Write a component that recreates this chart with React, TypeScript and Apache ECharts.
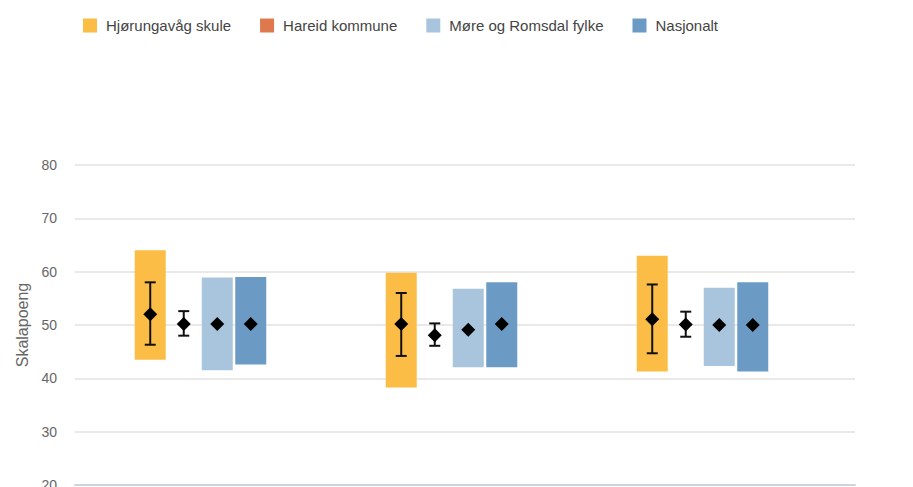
import React, { useEffect, useRef } from "react";
import * as echarts from "echarts";

// Categories (x labels are cut off in the reference, so they are not shown)
const categories = ["Kategori 1", "Kategori 2", "Kategori 3"];
const seriesNames = ["Hjørungavåg skule", "Hareid kommune", "Møre og Romsdal fylke", "Nasjonalt"];
const seriesColors = ["#fbbd45", "#e0784e", "#a9c5de", "#6b9bc5"];

// Range bars: low / high (null = no bar)
const skuleLow = [43.5, 38.3, 41.3];
const skuleHigh = [64, 59.8, 63];
const skuleMean = [52, 50.2, 51.1];
const skuleErrLow = [46.3, 44.2, 44.7];
const skuleErrHigh = [58, 56, 57.6];

const hareidMean = [50.2, 48.1, 50.1];
const hareidErrLow = [48.0, 46.1, 47.8];
const hareidErrHigh = [52.6, 50.3, 52.5];

const fylkeLow = [41.5, 42.1, 42.3];
const fylkeHigh = [58.9, 56.8, 57];
const fylkeMean = [50.2, 49.1, 50];

const nasjonaltLow = [42.6, 42.1, 41.3];
const nasjonaltHigh = [59, 58, 58];
const nasjonaltMean = [50.2, 50.2, 50];

const yTicks = [20, 30, 40, 50, 60, 70, 80];

type Row = [number, number | null, number | null, number, number | null, number | null];

function rows(low: (number | null)[] | null, high: (number | null)[] | null, mean: number[], eLow: number[] | null, eHigh: number[] | null): Row[] {
  return categories.map((_, i) => [
    i,
    low ? low[i] : null,
    high ? high[i] : null,
    mean[i],
    eLow ? eLow[i] : null,
    eHigh ? eHigh[i] : null,
  ]);
}

const seriesData: Row[][] = [
  rows(skuleLow, skuleHigh, skuleMean, skuleErrLow, skuleErrHigh),
  rows(null, null, hareidMean, hareidErrLow, hareidErrHigh),
  rows(fylkeLow, fylkeHigh, fylkeMean, null, null),
  rows(nasjonaltLow, nasjonaltHigh, nasjonaltMean, null, null),
];

export default function App() {
  const ref = useRef<HTMLDivElement>(null);
  useEffect(() => {
    if (!ref.current) return;
    const chart = echarts.init(ref.current, undefined, { renderer: "svg" });
    const makeRender = (sIdx: number, color: string) => (params: any, api: any) => {
      const cat = api.value(0);
      const low = api.value(1);
      const high = api.value(2);
      const mean = api.value(3);
      const eLow = api.value(4);
      const eHigh = api.value(5);
      const band = api.size([1, 0])[0];
      const center = api.coord([cat + 0.5, 50])[0];
      const cx = center + (sIdx - 1.5) * 0.1335 * band;
      const w = 0.1235 * band;
      const children: any[] = [];
      if (low != null && high != null && !isNaN(low) && !isNaN(high)) {
        const top = api.coord([cat + 0.5, high])[1];
        const bot = api.coord([cat + 0.5, low])[1];
        children.push({
          type: "rect",
          shape: { x: cx - w / 2, y: top, width: w, height: bot - top },
          style: { fill: color },
        });
      }
      if (eLow != null && eHigh != null && !isNaN(eLow) && !isNaN(eHigh)) {
        const t = api.coord([cat + 0.5, eHigh])[1];
        const b = api.coord([cat + 0.5, eLow])[1];
        const cap = 5.5;
        const ls = { stroke: "#111", lineWidth: 2 };
        children.push({ type: "line", shape: { x1: cx, y1: t, x2: cx, y2: b }, style: ls });
        children.push({ type: "line", shape: { x1: cx - cap, y1: t, x2: cx + cap, y2: t }, style: ls });
        children.push({ type: "line", shape: { x1: cx - cap, y1: b, x2: cx + cap, y2: b }, style: ls });
      }
      const my = api.coord([cat + 0.5, mean])[1];
      const d = 7;
      children.push({
        type: "polygon",
        shape: { points: [[cx, my - d], [cx + d, my], [cx, my + d], [cx - d, my]] },
        style: { fill: "#000" },
      });
      return { type: "group", children };
    };

    chart.setOption({
      animation: false,
      textStyle: { fontFamily: "Liberation Sans, Arial, sans-serif" },
      legend: {
        top: 13,
        left: 78,
        icon: "rect",
        itemWidth: 14,
        itemHeight: 14,
        itemGap: 29,
        textStyle: { fontSize: 15, color: "#444", padding: [0, 0, 0, 4] },
        data: seriesNames,
      },
      grid: { left: 75, right: 58, top: 165, bottom: 2, outerBoundsMode: "none", containLabel: false },
      xAxis: {
        type: "value",
        min: 0,
        max: 780 / 251,
        interval: 1,
        axisLabel: { show: false },
        splitLine: { show: false },
        axisTick: { show: false },
        axisLine: { show: true, lineStyle: { color: "#ccd4e0", width: 2 } },
      },
      yAxis: {
        type: "value",
        min: yTicks[0],
        max: yTicks[yTicks.length - 1],
        interval: 10,
        name: "Skalapoeng",
        nameLocation: "middle",
        nameGap: 44,
        nameTextStyle: { fontSize: 16, color: "#666" },
        axisLine: { show: false },
        axisTick: { show: false },
        axisLabel: { fontSize: 14, color: "#666", margin: 18 },
        splitLine: { lineStyle: { color: "#e4e1e1", width: 1.5 } },
      },
      series: seriesNames.map((name, sIdx) => ({
        name,
        type: "custom",
        color: seriesColors[sIdx],
        itemStyle: { color: seriesColors[sIdx] },
        renderItem: makeRender(sIdx, seriesColors[sIdx]),
        encode: { x: 0, y: [1, 2, 3] },
        data: seriesData[sIdx],
      })),
    });
    return () => chart.dispose();
  }, []);
  return <div ref={ref} style={{ position: "fixed", left: 0, top: 0, width: 913, height: 487, background: "#fff" }} />;
}
